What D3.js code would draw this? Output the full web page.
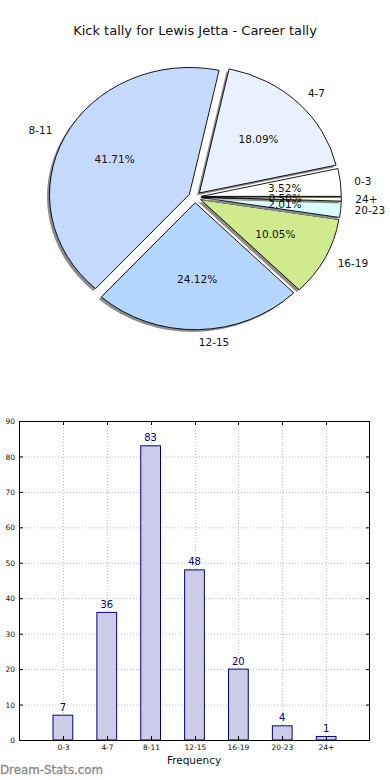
<!DOCTYPE html>
<html><head><meta charset="utf-8">
<script src="https://cdn.jsdelivr.net/npm/d3@7/dist/d3.min.js"></script>
<style>html,body{margin:0;padding:0;background:#fff;}svg{display:block;font-family:"DejaVu Sans",sans-serif;}</style>
</head><body>
<script>
const categories = ["0-3","4-7","8-11","12-15","16-19","20-23","24+"];
const counts = [7,36,83,48,20,4,1];
const pieColors = ["#ffffff","#eaf1fe","#c5d9fd","#b5d6fe","#cfeb8e","#d9fdfe","#fdfde0"];
const yTicks = [0,10,20,30,40,50,60,70,80,90];
const titleText = "Kick tally for Lewis Jetta - Career tally";

const W = 390, H = 780;
const svg = d3.select("body").append("svg").attr("width", W).attr("height", H);

svg.append("text").attr("x", 195).attr("y", 35).attr("text-anchor","middle")
  .attr("font-size", 13).attr("fill","#111").text(titleText);

// ---- Pie ----
const cx = 195, cy = 197, rx = 140, ry = 127, ex = 0.045;
const total = d3.sum(counts);
const pie = d3.pie().sort(null).startAngle(Math.PI/2).endAngle(Math.PI/2 - 2*Math.PI);
const arcs = pie(counts);
const arcGen = d3.arc().innerRadius(0).outerRadius(1);
const g = svg.append("g");
arcs.forEach((a, i) => {
  const m = (a.startAngle + a.endAngle)/2;
  const ox = ex*rx*Math.sin(m), oy = -ex*ry*Math.cos(m);
  const d = arcGen({startAngle: Math.min(a.startAngle,a.endAngle), endAngle: Math.max(a.startAngle,a.endAngle)});
  g.append("path").attr("d", d)
    .attr("transform", `translate(${cx+ox-0.018*rx},${cy+oy+0.018*ry}) scale(${rx},${ry})`)
    .attr("fill", "#8c8c8c").attr("stroke","none");
  g.append("path").attr("d", d)
    .attr("transform", `translate(${cx+ox},${cy+oy}) scale(${rx},${ry})`)
    .attr("fill", pieColors[i]).attr("stroke","#000").attr("stroke-width",0.9)
    .attr("vector-effect","non-scaling-stroke").attr("stroke-linejoin","round");
});
arcs.forEach((a, i) => {
  const m = (a.startAngle + a.endAngle)/2;
  const sx = Math.sin(m), sy = -Math.cos(m);
  const lx = cx + (1.1+ex)*rx*sx, ly = cy + (1.1+ex)*ry*sy;
  svg.append("text").attr("x", lx).attr("y", ly).attr("dy","0.35em")
    .attr("text-anchor", sx > 0 ? "start" : "end")
    .attr("font-size", 10.5).attr("fill","#111").text(categories[i]);
  const px = cx + (0.6+ex)*rx*sx, py = cy + (0.6+ex)*ry*sy;
  svg.append("text").attr("x", px).attr("y", py).attr("dy","0.35em")
    .attr("text-anchor","middle").attr("font-size", 10.5).attr("fill","#111")
    .text((counts[i]/total*100).toFixed(2) + "%");
});

// ---- Bar chart ----
const L = 19, R = 370, T = 421, B = 740;
const x = d3.scaleLinear().domain([0, categories.length+1]).range([L, R]);
const y = d3.scaleLinear().domain([0, 90]).range([B, T]);
const bw = 0.45;
const bg = svg.append("g");
bg.selectAll("line.hg").data(yTicks.slice(1,-1)).join("line")
  .attr("x1", L).attr("x2", R).attr("y1", d=>y(d)+0.5).attr("y2", d=>y(d)+0.5)
  .attr("stroke","#bdbdbd").attr("stroke-width",1).attr("stroke-dasharray","1,2");
bg.selectAll("line.vg").data(categories).join("line")
  .attr("y1", T).attr("y2", B).attr("x1", (d,i)=>Math.round(x(i+1))+0.5).attr("x2",(d,i)=>Math.round(x(i+1))+0.5)
  .attr("stroke","#bdbdbd").attr("stroke-width",1).attr("stroke-dasharray","1,2");
bg.selectAll("rect.bar").data(counts).join("rect")
  .attr("x", (d,i)=>x(i+1-bw/2)).attr("width", x(bw)-x(0))
  .attr("y", d=>y(d)).attr("height", d=>B-y(d))
  .attr("fill","#ccccE6").attr("stroke","#000080").attr("stroke-width",1);
bg.selectAll("text.val").data(counts).join("text")
  .attr("x", (d,i)=>x(i+1)).attr("y", d=>y(d)-4.5).attr("text-anchor","middle")
  .attr("font-size", 10).attr("fill","#000080").text(d=>d);
bg.append("rect").attr("x",L+0.5).attr("y",T+0.5).attr("width",R-L-1).attr("height",B-T)
  .attr("fill","none").attr("stroke","#000").attr("stroke-width",1);
yTicks.forEach(t => {
  const yy = y(t)+0.5;
  bg.append("line").attr("x1",L).attr("x2",L+4).attr("y1",yy).attr("y2",yy).attr("stroke","#000");
  bg.append("line").attr("x1",R-4).attr("x2",R).attr("y1",yy).attr("y2",yy).attr("stroke","#000");
  bg.append("text").attr("x", L-4).attr("y", yy).attr("dy","0.35em").attr("text-anchor","end")
    .attr("font-size",7.5).attr("fill","#111").text(t);
});
categories.forEach((c,i) => {
  const xx = Math.round(x(i+1))+0.5;
  bg.append("line").attr("x1",xx).attr("x2",xx).attr("y1",B).attr("y2",B-4).attr("stroke","#000");
  bg.append("line").attr("x1",xx).attr("x2",xx).attr("y1",T).attr("y2",T+4).attr("stroke","#000");
  bg.append("text").attr("x", xx).attr("y", B+10).attr("text-anchor","middle")
    .attr("font-size",7.5).attr("fill","#111").text(c);
});
svg.append("text").attr("x", 194).attr("y", 764).attr("text-anchor","middle")
  .attr("font-size",10.5).attr("fill","#111").text("Frequency");
svg.append("text").attr("x", 0).attr("y", 774).attr("font-size",11.8)
  .attr("fill","#8c8c8c").attr("stroke","#8c8c8c").attr("stroke-width",0.35).text("Dream-Stats.com");
</script>
</body></html>
